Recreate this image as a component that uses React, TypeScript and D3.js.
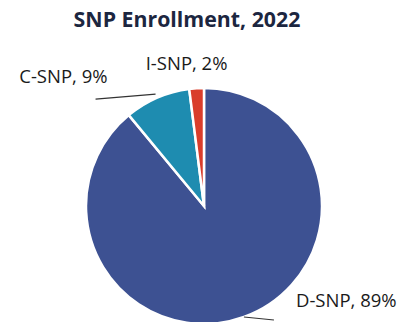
import React from "react";
import * as d3 from "d3";

const categories = ["D-SNP", "C-SNP", "I-SNP"];
const shares = [89, 9, 2];
const colors = ["#3D5192", "#1E8CB0", "#D93D2B"];
const title = "SNP Enrollment, 2022";

const W = 401;
const H = 322;
const cx = 204;
const cy = 206;
const R = 118;

// label layout relative to the slice's mid-angle point on the rim
const labelLayout: Record<string, { r: number; lead: [number, number] | null; tx: number; ty: number; anchor: string }> = {
  "D-SNP": { r: R, lead: [30, 3], tx: 52, ty: -10, anchor: "start" },
  "C-SNP": { r: R + 4, lead: [-60, 5], tx: -48, ty: -11, anchor: "end" },
  "I-SNP": { r: R, lead: null, tx: -10, ty: -18, anchor: "middle" },
};

export default function App() {
  const data = categories.map((c, i) => ({ c, v: shares[i], color: colors[i] }));
  const pie = d3.pie<any>().sort(null).value((d) => d.v).startAngle(0).endAngle(2 * Math.PI);
  const arcs = pie(data);
  const arc = d3.arc<any>().innerRadius(0).outerRadius(R);
  const pt = (a: number, r: number) => [cx + r * Math.sin(a), cy - r * Math.cos(a)];

  return (
    <svg width={W} height={H} style={{ position: "absolute", left: 0, top: 0, background: "#fff" }}>
      <text x={187} y={27} textAnchor="middle" fontFamily="'Open Sans', sans-serif" fontWeight={700} fontSize={21.3} fill="#1C2640">
        {title}
      </text>
      <g transform={`translate(${cx},${cy})`}>
        {arcs.map((a, i) => (
          <path key={i} d={arc(a) as string} fill={a.data.color} stroke="#fff" strokeWidth={2.5} strokeLinejoin="miter" />
        ))}
      </g>
      {arcs.map((a, i) => {
        const name = a.data.c;
        const L = labelLayout[name];
        const mid = (a.startAngle + a.endAngle) / 2;
        const p0 = pt(mid, L.r);
        const label = `${name}, ${a.data.v}%`;
        return (
          <g key={i}>
            {L.lead && (
              <line x1={p0[0]} y1={p0[1]} x2={p0[0] + L.lead[0]} y2={p0[1] + L.lead[1]} stroke="#333" strokeWidth={1.2} />
            )}
            <text
              x={p0[0] + L.tx}
              y={p0[1] + L.ty}
              textAnchor={L.anchor}
              fontFamily="'Open Sans', sans-serif"
              fontSize={18.5}
              fill="#1a1a1a"
            >
              {label}
            </text>
          </g>
        );
      })}
    </svg>
  );
}
